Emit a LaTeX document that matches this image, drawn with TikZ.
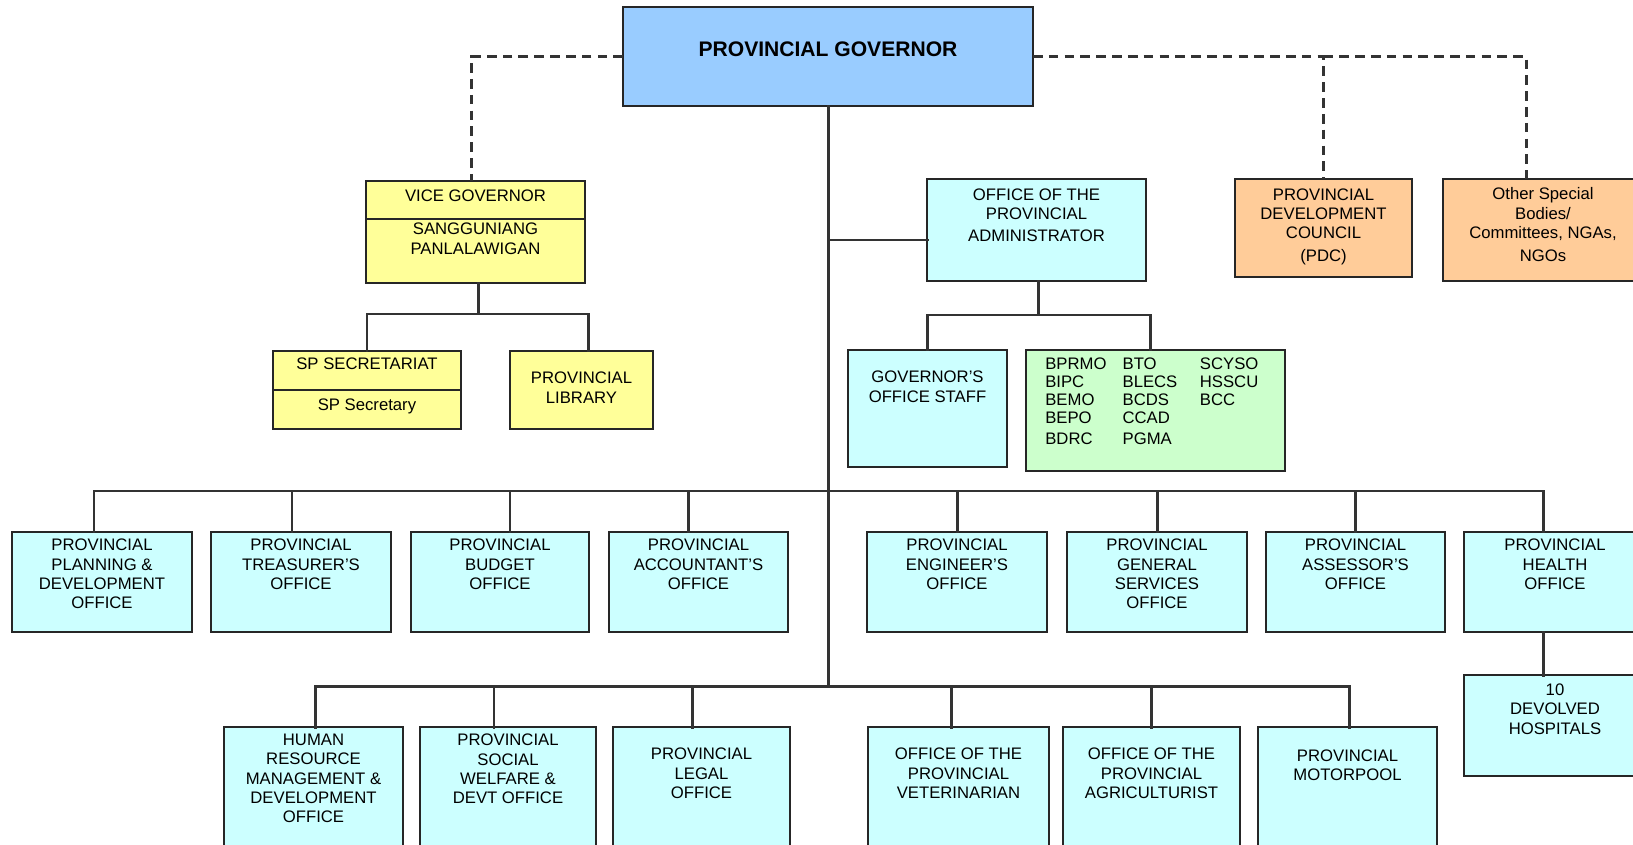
\documentclass[tikz,border=0pt]{standalone}
\usepackage{fontspec}
\setmainfont{Liberation Sans}
\usepackage{xcolor}
\usetikzlibrary{positioning,calc}

\definecolor{govblue}{HTML}{99CCFF}
\definecolor{offcyan}{HTML}{CCFFFF}
\definecolor{vgyellow}{HTML}{FFFF99}
\definecolor{pdcorange}{HTML}{FFCC99}
\definecolor{burgreen}{HTML}{CCFFCC}

\newlength{\pxl}
\setlength{\pxl}{0.02cm}

\tikzset{unitbox/.style 2 args={draw=black!85, line width=1pt, inner sep=0pt, outer sep=0pt, anchor=north west,
           execute at begin node={\begin{minipage}[c][#2\pxl][t]{#1\pxl}\centering\vspace*{4pt}},
           execute at end node={\end{minipage}}},
         office/.style 2 args={unitbox={#1}{#2}, fill=offcyan},
         council/.style 2 args={unitbox={#1}{#2}, fill=pdcorange},
         legis/.style 2 args={unitbox={#1}{#2}, fill=vgyellow},
         link/.style={draw=black!80, line width=1.7pt, line cap=rect},
         dashlink/.style={draw=black!80, line width=1.7pt, dash pattern=on 5.5pt off 3.5pt}
        }

\begin{document}
\begin{tikzpicture}[x=0.02cm, y=-0.02cm, font=\fontsize{9.5}{11}\selectfont]
\useasboundingbox (0,0) rectangle (1633,845);
\clip (0,0) rectangle (1633,845);

\node[unitbox={410}{99}, fill=govblue] at (623,7)(gov){\vspace*{16pt}{\fontsize{12}{14}\selectfont\bfseries PROVINCIAL GOVERNOR}};

\node[legis={219}{102}] at (366,181)(vg){\vspace*{1pt}VICE GOVERNOR\\[8pt]SANGGUNIANG\\PANLALAWIGAN};
\node[legis={188}{78}] at (273,351)(sps){SP SECRETARIAT\\[12pt]SP Secretary};
\node[legis={143}{78}] at (510,351)(lib){\vspace*{8pt}PROVINCIAL\\LIBRARY};
\draw[draw=black!85, line width=1pt] (vg.north west) ++(0,38) -- ++(219,0);
\draw[draw=black!85, line width=1pt] (sps.north west) ++(0,39) -- ++(188,0);

\node[office={219}{102}] at (927,179)(opa){\vspace*{1.5pt}OFFICE OF THE\\PROVINCIAL\\[1.5pt]ADMINISTRATOR};
\node[office={159}{117}] at (848,350)(gos){\vspace*{8pt}GOVERNOR'S\\OFFICE STAFF};
\node[unitbox={259}{121}, fill=burgreen] at (1026,350)(bur){\fontsize{9.5}{10.2}\selectfont\noindent\makebox[\linewidth][l]{\hspace*{11pt}\begin{tabular}[t]{@{}p{44pt}@{}p{44pt}@{}l@{}}
BPRMO & BTO & SCYSO\\
BIPC & BLECS & HSSCU\\
BEMO & BCDS & BCC\\
BEPO & CCAD & \\[2pt]
BDRC & PGMA &
\end{tabular}}};

\node[council={177}{98}] at (1235,179)(pdc){\vspace*{1.5pt}PROVINCIAL\\DEVELOPMENT\\COUNCIL\\[2pt](PDC)};
\node[council={200}{102}] at (1443,179)(osb){\vspace*{1pt}Other Special\\Bodies/\\Committees, NGAs,\\[2pt]NGOs};

\node[office={180}{100}] at (12,532)(ppdo){PROVINCIAL\\PLANNING \&\\DEVELOPMENT\\OFFICE};
\node[office={180}{100}] at (211,532)(pto){PROVINCIAL\\TREASURER'S\\OFFICE};
\node[office={178}{100}] at (411,532)(pbo){PROVINCIAL\\BUDGET\\OFFICE};
\node[office={179}{100}] at (609,532)(pacc){PROVINCIAL\\ACCOUNTANT'S\\OFFICE};
\node[office={180}{100}] at (867,532)(peo){PROVINCIAL\\ENGINEER'S\\OFFICE};
\node[office={180}{100}] at (1067,532)(pgso){PROVINCIAL\\GENERAL\\SERVICES\\OFFICE};
\node[office={179}{100}] at (1266,532)(paso){PROVINCIAL\\ASSESSOR'S\\OFFICE};
\node[office={182}{100}] at (1464,532)(pho){PROVINCIAL\\HEALTH\\OFFICE};
\node[office={182}{101}] at (1464,675)(hosp){\vspace*{1pt}10\\DEVOLVED\\HOSPITALS};

\node[office={179}{140}] at (224,727)(hrmdo){HUMAN\\RESOURCE\\MANAGEMENT \&\\DEVELOPMENT\\OFFICE};
\node[office={176}{140}] at (420,727)(pswdo){PROVINCIAL\\SOCIAL\\WELFARE \&\\DEVT OFFICE};
\node[office={177}{140}] at (613,727)(plo){\vspace*{8pt}PROVINCIAL\\LEGAL\\OFFICE};
\node[office={181}{140}] at (868,727)(opvet){\vspace*{8pt}OFFICE OF THE\\PROVINCIAL\\VETERINARIAN};
\node[office={177}{140}] at (1063,727)(opag){\vspace*{8pt}OFFICE OF THE\\PROVINCIAL\\AGRICULTURIST};
\node[office={179}{140}] at (1258,727)(pmp){\vspace*{9pt}PROVINCIAL\\MOTORPOOL};

\coordinate (busa) at (828,491);
\coordinate (busb) at (828,686);
\draw[link] (gov.south) -- (busb);
\draw[link] ([yshift=-10\pxl]opa.west) -- ++(-99,0);

\draw[dashlink] (gov.west) -| ([xshift=-4\pxl]vg.north);
\draw[dashlink] (gov.east) -| (pdc.north);
\draw[dashlink] (pdc.north |- gov.east) -| ([xshift=-17\pxl]osb.north);

\draw[link] ([xshift=3\pxl]vg.south) -- ++(0,31) coordinate (vgj) -| (sps.north);
\draw[link] (vgj) -| ([xshift=7\pxl]lib.north);
\draw[link] ([xshift=2\pxl]opa.south) -- ++(0,34) coordinate (opaj) -| (gos.north);
\draw[link] (opaj) -| ([xshift=-5\pxl]bur.north);

\draw[link] ([xshift=-8\pxl]ppdo.north |- busa) -- ([xshift=-12\pxl]pho.north |- busa);
\foreach \n/\s in {ppdo/-8,pto/-9,pbo/10,pacc/-10,peo/0,pgso/0,paso/0,pho/-12}
  \draw[link] ([xshift=\s\pxl]\n.north |- busa) -- ([xshift=\s\pxl]\n.north);
\draw[link] ([xshift=2\pxl]hrmdo.north |- busb) -- ([xshift=2\pxl]pmp.north |- busb);
\foreach \n/\s in {hrmdo/2,pswdo/-14,plo/-9,opvet/-7,opag/0,pmp/2}
  \draw[link] ([xshift=\s\pxl]\n.north |- busb) -- ([xshift=\s\pxl]\n.north);
\draw[link] ([xshift=-12\pxl]pho.south) -- ([xshift=-12\pxl]hosp.north);
\end{tikzpicture}
\end{document}
